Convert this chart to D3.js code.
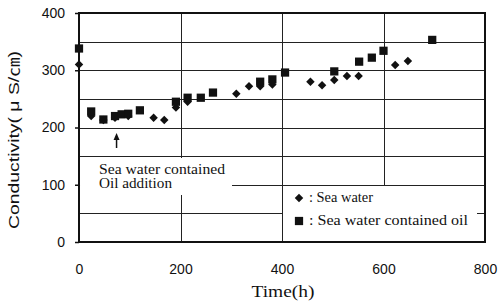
<!DOCTYPE html>
<html lang="en">
<head>
<meta charset="UTF-8">
<title>Conductivity vs time</title>
<script src="https://d3js.org/d3.v7.min.js"></script>
<style>
    body { margin: 0; background: #fff; }
    svg { display: block; }
    .tick-label { font-family: 'Liberation Sans', Arial, sans-serif; font-size: 14px; fill: #111; }
    .serif { font-family: 'Liberation Serif', 'Times New Roman', serif; fill: #111; }
    .sans { font-family: 'Liberation Sans', Arial, 'Noto Sans CJK JP', sans-serif; fill: #111; }
</style>
</head>
<body>
<svg id="chart" width="501" height="304"></svg>
<script>
    // Sea water (diamonds): [time h, conductivity]
    const seaTime = [0, 24, 48, 71, 97, 147, 168, 191, 214, 310, 335, 357, 381, 456, 479, 503, 528, 551, 623, 648];
    const seaCond = [310, 220, 213, 217, 220, 217, 213, 235, 245, 259, 272, 272, 275, 280, 274, 283, 290, 290, 309, 316];

    // Sea water contained oil (squares)
    const oilTime = [0, 24, 48, 71, 84, 97, 120, 191, 214, 240, 264, 357, 381, 406, 503, 552, 577, 600, 696];
    const oilCond = [338, 228, 214, 220, 223, 224, 230, 245, 252, 252, 261, 280, 284, 296, 298, 315, 322, 334, 353];

    const xTicks = [0, 200, 400, 600, 800];
    const yTicks = [0, 100, 200, 300, 400];
    const yGrid = [50, 100, 150, 200, 250, 300, 350];

    const svg = d3.select('#chart');
    const x = d3.scaleLinear().domain([0, 800]).range([79, 485]);
    const y = d3.scaleLinear().domain([0, 400]).range([242, 13]);

    // grid
    const grid = svg.append('g').attr('stroke', '#222').attr('stroke-width', 1);
    grid.selectAll('.hg').data(yGrid).join('line')
        .attr('x1', x(0)).attr('x2', x(800))
        .attr('y1', d => Math.round(y(d)) + 0.5).attr('y2', d => Math.round(y(d)) + 0.5);
    grid.selectAll('.vg').data([200, 400, 600]).join('line')
        .attr('y1', y(0)).attr('y2', y(400))
        .attr('x1', d => Math.round(x(d)) + 0.5).attr('x2', d => Math.round(x(d)) + 0.5);

    // annotation background covering the grid
    svg.append('rect').attr('x', x(2)).attr('y', 158).attr('width', 152).attr('height', 37).attr('fill', '#fff');

    // legend area: white, bounded by the 400 h and 100 grid lines
    const lg = svg.append('g');
    lg.append('rect').attr('x', Math.round(x(400)) + 1).attr('y', Math.round(y(100)) + 1)
        .attr('width', 477 - Math.round(x(400)) - 1).attr('height', y(0) - y(100) - 1)
        .attr('fill', '#fff');

    // frame
    svg.append('rect').attr('x', x(0)).attr('y', y(400))
        .attr('width', x(800) - x(0)).attr('height', y(0) - y(400))
        .attr('fill', 'none').attr('stroke', '#111').attr('stroke-width', 2);

    // axes
    const yAxis = d3.axisLeft(y).tickValues(yTicks).tickSize(4).tickPadding(10).tickFormat(d3.format('d'));
    const ya = svg.append('g').attr('transform', `translate(${x(0)},0)`).call(yAxis);
    ya.select('.domain').remove();
    ya.selectAll('text').attr('class', 'tick-label').attr('font-family', null).attr('font-size', null).attr('fill', null);
    ya.selectAll('line').attr('stroke', '#111').attr('stroke-width', 1.5);

    const xAxis = d3.axisBottom(x).tickValues(xTicks).tickSize(0).tickPadding(22).tickFormat(d3.format('d'));
    const xa = svg.append('g').attr('transform', `translate(0,${y(0)})`).call(xAxis);
    xa.select('.domain').remove();
    xa.selectAll('text').attr('class', 'tick-label').attr('font-family', null).attr('font-size', null).attr('fill', null);

    // axis titles
    svg.append('text').attr('class', 'serif').attr('x', 283).attr('y', 297)
        .attr('text-anchor', 'middle').attr('font-size', 17)
        .attr('textLength', 63).attr('lengthAdjust', 'spacingAndGlyphs').text('Time(h)');
    svg.append('text').attr('class', 'sans')
        .attr('transform', 'translate(19,140) rotate(-90)')
        .attr('text-anchor', 'middle').attr('font-size', 15)
        .attr('textLength', 178).attr('lengthAdjust', 'spacingAndGlyphs')
        .text('Conductivity( μ S/㎝)');

    // symbols
    const diamond = d3.symbol().type(d3.symbolDiamond2).size(46);
    const square = d3.symbol().type(d3.symbolSquare).size(68);

    const seaData = seaTime.map((t, i) => ({ t: t, v: seaCond[i] }));
    const oilData = oilTime.map((t, i) => ({ t: t, v: oilCond[i] }));

    svg.append('g').selectAll('path').data(seaData).join('path')
        .attr('d', diamond)
        .attr('transform', d => `translate(${x(d.t)},${y(d.v)})`)
        .attr('fill', '#111');
    svg.append('g').selectAll('path').data(oilData).join('path')
        .attr('d', square)
        .attr('transform', d => `translate(${x(d.t)},${y(d.v)})`)
        .attr('fill', '#111');

    // arrow + annotation
    const ax = x(74);
    svg.append('line').attr('x1', ax).attr('x2', ax).attr('y1', 138).attr('y2', 148)
        .attr('stroke', '#111').attr('stroke-width', 1.5);
    svg.append('path').attr('d', `M${ax - 3},${140} L${ax},${133} L${ax + 3},${140} Z`).attr('fill', '#111');
    const ann = svg.append('g').attr('class', 'serif').attr('font-size', 14);
    ann.append('text').attr('x', 99).attr('y', 174)
        .attr('textLength', 126).attr('lengthAdjust', 'spacingAndGlyphs').text('Sea water contained');
    ann.append('text').attr('x', 99).attr('y', 188)
        .attr('textLength', 73).attr('lengthAdjust', 'spacingAndGlyphs').text('Oil addition');

    // legend entries
    lg.append('path').attr('d', diamond).attr('transform', 'translate(299,198)').attr('fill', '#111');
    lg.append('path').attr('d', square).attr('transform', 'translate(299,221)').attr('fill', '#111');
    lg.append('text').attr('class', 'serif').attr('font-size', 14).attr('x', 309).attr('y', 202)
        .attr('textLength', 64).attr('lengthAdjust', 'spacingAndGlyphs').text(': Sea water');
    lg.append('text').attr('class', 'serif').attr('font-size', 14).attr('x', 309).attr('y', 225)
        .attr('textLength', 159).attr('lengthAdjust', 'spacingAndGlyphs').text(': Sea water contained oil');
</script>
</body>
</html>
